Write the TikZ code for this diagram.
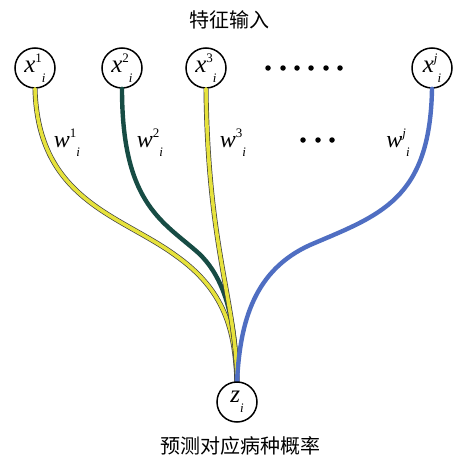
\documentclass[tikz,border=0pt]{standalone}
\usepackage{fontspec}
\setmainfont{Liberation Serif}
\newfontfamily\cjk{Noto Sans CJK SC}
\definecolor{wyellow}{HTML}{E6E23C}
\definecolor{wgreen}{HTML}{174C44}
\definecolor{wblue}{HTML}{4F6EC2}
\newcommand\vlab[3]{\textit{#1}\raisebox{0.42em}{\fontsize{13}{13}\selectfont #2}\raisebox{-0.38em}{\fontsize{13}{13}\selectfont\textit{#3}}}
\begin{document}
\begin{tikzpicture}[x=1pt,y=-1pt,
  neuron/.style={circle,draw,line width=1.5pt,minimum size=40pt,inner sep=0pt,fill=white,font=\fontsize{25}{25}\selectfont},
  wlabel/.style={font=\fontsize{24}{24}\selectfont,inner sep=0pt},
  cjklabel/.style={font=\cjk\fontsize{20}{20}\selectfont,inner sep=0pt},
  outline/.style={line width=5pt,draw=black!75},
  wire/.style={line width=3.6pt,line cap=round},
  dotmark/.style={circle,fill=black,inner sep=0pt,minimum size=5.5pt}]
\useasboundingbox (0,0) rectangle (455,463);
\node[cjklabel] (title) at (229,20) {特征输入};
\node[neuron] (x1) at (35,68) {\vlab{x}{1}{i}};
\node[neuron] (x2) at (122,68) {\vlab{x}{2}{i}};
\node[neuron] (x3) at (206,68) {\vlab{x}{3}{i}};
\node[neuron] (xj) at (432,68) {\vlab{x}{\textit{j}}{i}};
\node[cjklabel] (out) at (240,446) {预测对应病种概率};
\foreach \k/\xx in {1/268,2/283,3/297,4/311,5/326,6/340}
  \node[dotmark] (da\k) at (\xx,68) {};
\foreach \k/\xx in {1/303,2/318,3/332}
  \node[dotmark] (db\k) at (\xx,140) {};
\coordinate (zin) at (237,382);
% wires
\draw[outline] (x1.south) .. controls (38,200) and (120,215) .. (175,255) .. controls (225,290) and (235,330) .. (zin);
\draw[wire,wyellow] (x1.south) .. controls (38,200) and (120,215) .. (175,255) .. controls (225,290) and (235,330) .. (zin);
\draw[wire,wgreen,line width=4.4pt] (x2.south) .. controls (122,200) and (160,220) .. (195,250) .. controls (225,275) and (236,320) .. (zin);
\draw[outline] (x3.south) .. controls (208,250) and (236,300) .. (zin);
\draw[wire,wyellow] (x3.south) .. controls (208,250) and (236,300) .. (zin);
\draw[wire,wblue,line width=4.4pt] (xj.south) .. controls (430,200) and (380,215) .. (310,245) .. controls (255,270) and (240,320) .. (zin);
\node[neuron] (z) at (237,402) {\textit{z}\raisebox{-0.38em}{\fontsize{13}{13}\selectfont\textit{i}}};
\node[wlabel] (w1) at (67,143) {\vlab{w}{1}{i}};
\node[wlabel] (w2) at (150,143) {\vlab{w}{2}{i}};
\node[wlabel] (w3) at (233,143) {\vlab{w}{3}{i}};
\node[wlabel] (wj) at (398,143) {\vlab{w}{\textit{j}}{i}};
\end{tikzpicture}
\end{document}
